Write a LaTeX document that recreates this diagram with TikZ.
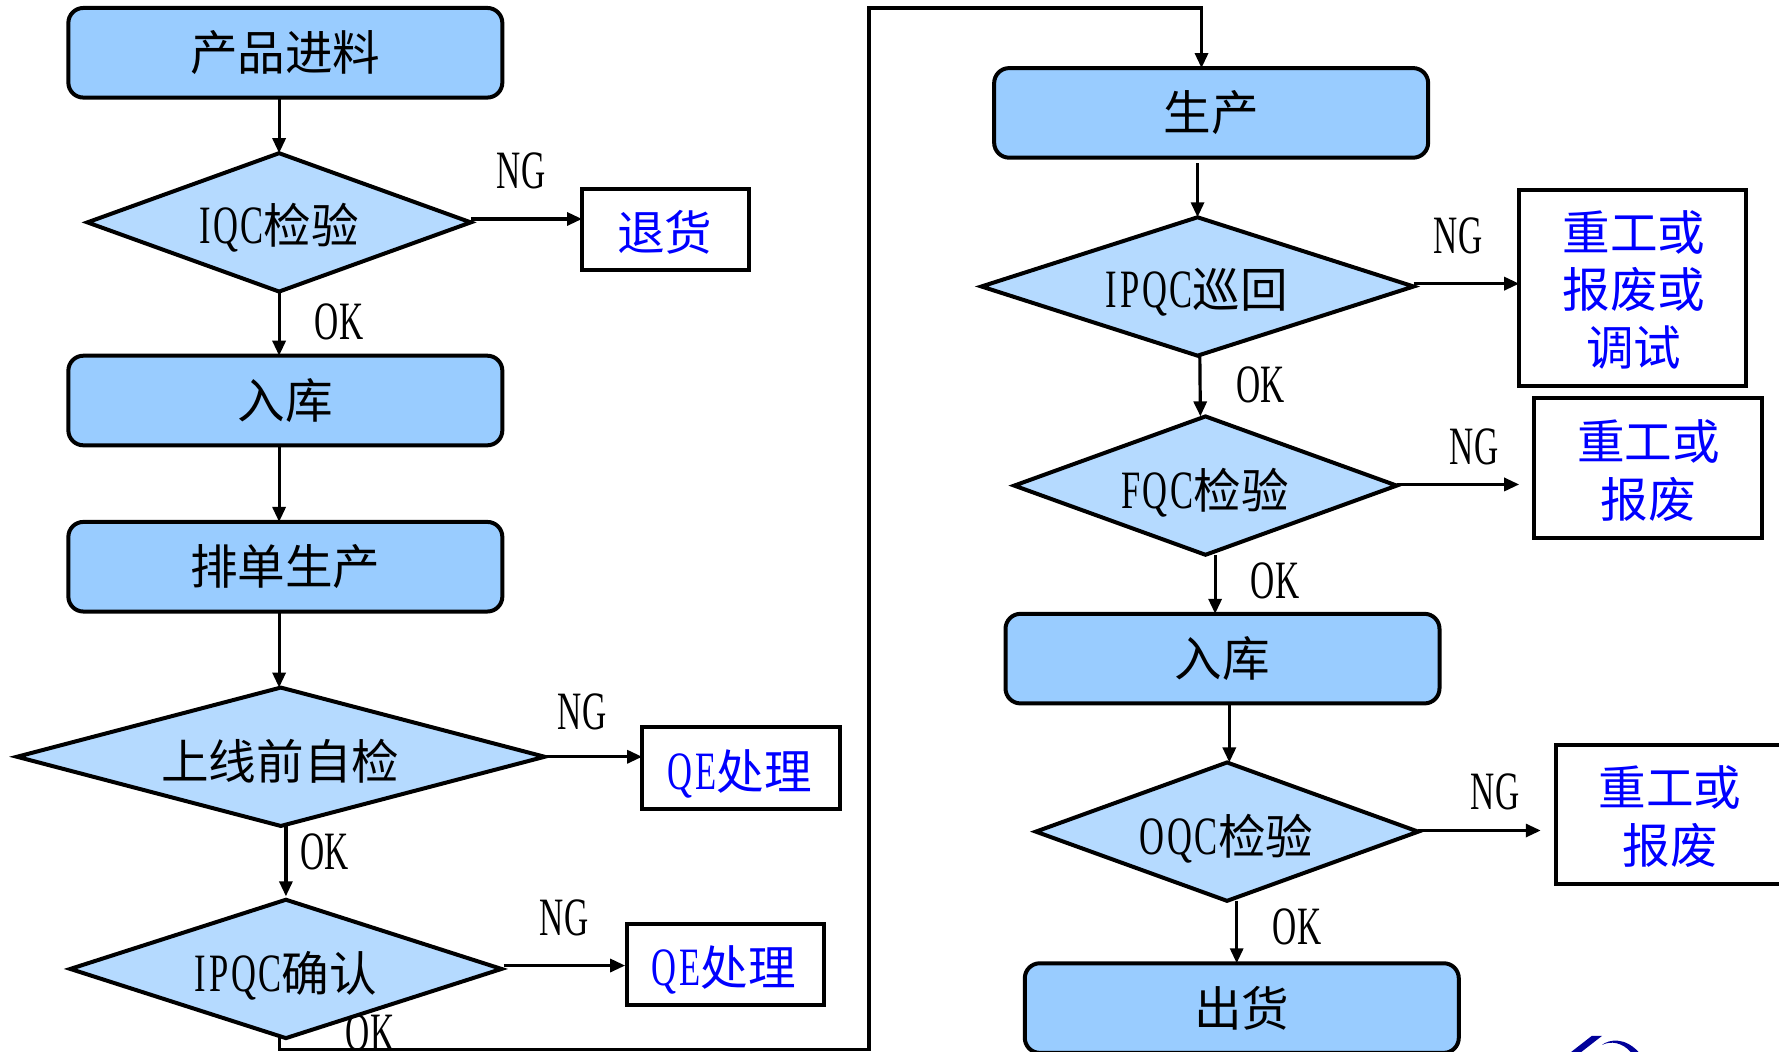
\documentclass[tikz,border=0pt]{standalone}
\usepackage{fontspec}
\setmainfont{Noto Sans CJK SC}
\newfontfamily\latf[FakeStretch=0.64,LetterSpace=5]{Liberation Serif}
\newfontfamily\latg[FakeStretch=0.62,LetterSpace=1]{Liberation Serif}
\newcommand{\lat}[1]{{\fontsize{27pt}{28.9pt}\selectfont\latf #1}}
\usetikzlibrary{shapes.geometric,arrows.meta,calc}
\definecolor{boxblue}{HTML}{99CCFF}
\definecolor{diablue}{HTML}{B5DAFF}
\definecolor{logoblue}{HTML}{00009A}
\tikzset{
  x=0.5673pt,y=-0.5673pt,
  every node/.style={font=\fontsize{23.8pt}{28.9pt}\selectfont,inner sep=0pt,outer sep=0pt},
  procbox/.style={draw=black,line width=2pt,fill=boxblue,rounded corners=7.5pt,minimum width=217pt,minimum height=44.8pt},
  decide/.style={draw=black,line width=2pt,fill=diablue,diamond},
  actbox/.style={draw=black,line width=2pt,fill=white},
  acttext/.style={text=blue,align=center},
  lbl/.style={font=\fontsize{27pt}{28.9pt}\selectfont\latg},
  arr/.style={line width=1.6pt,-{Triangle[length=7.5pt,width=6.5pt]}}
}
\begin{document}
\begin{tikzpicture}
\useasboundingbox (0,0) rectangle (1568,926.4);
\clip (0,0) rectangle (1568,926.4);
% process boxes
\node[procbox] (a) at (251.5,46.5) {产品进料};
\node[procbox] (b) at (251.5,353) {入库};
\node[procbox] (c) at (251.5,499.5) {排单生产};
\node[procbox] (p) at (1067.5,99.5) {生产};
\node[procbox] (w) at (1077.5,580.5) {入库};
\node[procbox] (s) at (1094.5,888.5) {出货};
% decisions
\node[decide,minimum width=191.7pt,minimum height=69.2pt] (d1) at (246,196) {};
\node (d1t) at (246,201) {\lat{IQC}检验};
\node[decide,minimum width=263.8pt,minimum height=69.2pt] (d2) at (247.5,667) {};
\node (d2t) at (247,671) {上线前自检};
\node[decide,minimum width=215.6pt,minimum height=69.2pt] (d3) at (252,854) {};
\node (d3t) at (252,860) {\lat{IPQC}确认};
\node[decide,minimum width=216.1pt,minimum height=69.2pt] (d4) at (1055.5,252.5) {};
\node (d4t) at (1055,258) {\lat{IPQC}巡回};
\node[decide,minimum width=191.2pt,minimum height=69.2pt] (d5) at (1062.5,428) {};
\node (d5t) at (1062,434) {\lat{FQC}检验};
\node[decide,minimum width=191.2pt,minimum height=69.2pt] (d6) at (1081.5,733) {};
\node (d6t) at (1081,739) {\lat{OQC}检验};
% action boxes
\node[actbox,minimum width=83.4pt,minimum height=40.3pt] (t1) at (586.5,202.5) {};
\node[acttext] (t1t) at (586,204.5) {退货};
\node[actbox,minimum width=98.7pt,minimum height=40.8pt] (t2) at (653,677) {};
\node[acttext] (t2t) at (652,682) {\lat{QE}处理};
\node[actbox,minimum width=98.1pt,minimum height=40.8pt] (t3) at (639.5,850) {};
\node[acttext] (t3t) at (638,855) {\lat{QE}处理};
\node[actbox,minimum width=113.5pt,minimum height=98.1pt] (t4) at (1439,253.5) {};
\node[acttext] (t4t) at (1440,255.5) {重工或\\报废或\\调试};
\node[actbox,minimum width=114pt,minimum height=69.8pt] (t5) at (1452.5,412.5) {};
\node[acttext] (t5t) at (1453,414.5) {重工或\\报废};
\node[actbox,minimum width=114pt,minimum height=69.2pt] (t6) at (1471.5,718) {};
\node[acttext] (t6t) at (1472,720) {重工或\\报废};
% free ends of connectors
\coordinate (e1) at (513,193);
\coordinate (e2) at (566,667);
\coordinate (e3) at (551,851);
\coordinate (e4) at (1339,250);
\coordinate (e5) at (1339,427);
\coordinate (e6) at (1358,732);
\coordinate (r0) at (246,925);
\coordinate (r1) at (766,925);
\coordinate (r2) at (766,7);
\coordinate (r3) at (1059,7);
% connectors
\draw[arr] (a.south -| d1.north) -- (d1.north);
\draw[arr] (d1.south) -- (b.north -| d1.south);
\draw[arr] (b.south -| d1.south) -- (c.north -| d1.south);
\draw[arr] (c.south -| d1.south) -- (d2.north -| d1.south);
\draw[arr] (d2.south -| d3.north) -- ($(d3.north)+(0,-3)$);
\draw[arr] (d1.east |- e1) -- (e1);
\draw[arr] (d2.east) -- (e2);
\draw[arr] ($(d3.east)+(2,-3)$) -- (e3);
\draw[arr] (d3.south -| r0) -- (r0) -- (r1) -- (r2) -- (r3) -- (p.north -| r3);
\draw[arr] ($(p.south -| d4.north)+(0,5)$) -- (d4.north);
\draw[arr] (d4.east |- e4) -- (e4);
\draw[arr] ($(d4.south)+(2,0)$) -- ($(d5.north)+(-4.5,0)$);
\draw[arr] (d5.east |- e5) -- (e5);
\draw[arr] ($(d5.south)+(8.5,0)$) -- ($(w.north -| d5.south)+(8.5,0)$);
\draw[arr] (w.south -| d6.north) ++(2,0) -- ($(d6.north)+(2,0)$);
\draw[arr] (d6.east |- e6) -- (e6);
\draw[arr] ($(d6.south)+(8.5,0)$) -- ($(s.north -| d6.south)+(8.5,0)$);
% labels
\node[lbl] (n1) at (459,151) {NG};
\node[lbl] (o1) at (299,284) {OK};
\node[lbl] (n2) at (513,627) {NG};
\node[lbl] (o2) at (286,751) {OK};
\node[lbl] (n3) at (497,809) {NG};
\node[lbl] (o3) at (326,910) {OK};
\node[lbl] (n4) at (1285,208) {NG};
\node[lbl] (o4) at (1111,339) {OK};
\node[lbl] (n5) at (1299,394) {NG};
\node[lbl] (o5) at (1124,512) {OK};
\node[lbl] (n6) at (1318,698) {NG};
\node[lbl] (o6) at (1143,817) {OK};
% fragment of a logo cut off by the lower edge
\fill[logoblue] (1403,913) -- (1412,913) -- (1394,927) -- (1385,927) -- cycle;
\fill[logoblue] (1412,921) .. controls (1418,916) and (1432,914) .. (1444,927) -- (1437,927) .. controls (1430,919) and (1420,917) .. (1412,921) -- cycle;
\end{tikzpicture}
\end{document}
